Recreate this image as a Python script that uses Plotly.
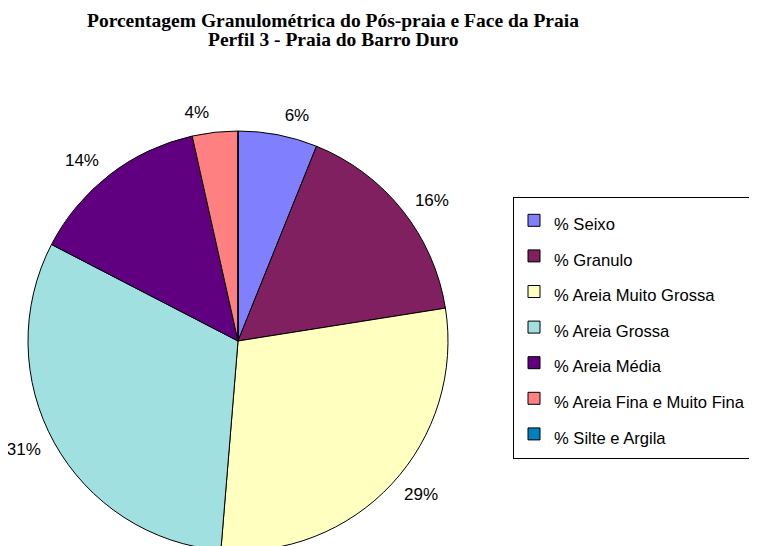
import plotly.graph_objects as go

labels = ["% Seixo", "% Granulo", "% Areia Muito Grossa", "% Areia Grossa",
          "% Areia Média", "% Areia Fina e Muito Fina", "% Silte e Argila"]
values = [6.1, 16.4, 28.8, 31.3, 13.9, 3.5, 0.0]
colors = ["#8080FF", "#802060", "#FFFFC0", "#A0E0E0", "#600080", "#FF8080", "#0080C0"]

title_lines = ["Porcentagem Granulométrica do Pós-praia e Face da Praia",
               "Perfil 3 - Praia do Barro Duro"]

W, H = 757, 560
total = sum(values)
texts = [f"{round(v / total * 100)}%" if v > 0 else "" for v in values]
legend_font = (35.6 - 3) / 1.3
FONT = "Liberation Sans, Arial"

# pie geometry (figure pixels)
cx, cy, R, R_lab = 230, 333, 210, 220


def dom(r):
    return dict(x=[(cx - r) / W, (cx + r) / W], y=[(H - cy - r) / H, (H - cy + r) / H])


legend_labels = [f"<span style='font-size:16.6px'>{l}</span>" for l in labels]

fig = go.Figure()
fig.add_trace(go.Pie(
    labels=legend_labels,
    values=values,
    textinfo="none",
    sort=False,
    direction="clockwise",
    rotation=0,
    marker=dict(colors=colors, line=dict(color="black", width=1)),
    domain=dom(R),
    automargin=False,
    hoverinfo="label+percent",
    showlegend=True,
))
# percentage labels, placed just outside the pie
fig.add_trace(go.Pie(
    labels=legend_labels,
    values=values,
    text=texts,
    textinfo="text",
    textposition="outside",
    sort=False,
    direction="clockwise",
    rotation=0,
    marker=dict(colors=["rgba(0,0,0,0)"] * len(values), line=dict(width=0)),
    outsidetextfont=dict(family=FONT, size=17, color="black"),
    textfont=dict(family=FONT, size=17, color="black"),
    domain=dom(R_lab),
    automargin=False,
    hoverinfo="skip",
    showlegend=False,
))

fig.update_layout(
    width=W, height=H,
    margin=dict(l=0, r=0, t=0, b=0, autoexpand=False),
    paper_bgcolor="white", plot_bgcolor="white",
    showlegend=True,
    legend=dict(
        x=505 / W, y=(H - 188.5) / H, xanchor="left", yanchor="top",
        font=dict(family=FONT, size=legend_font, color="black"),
        bordercolor="black", borderwidth=1, bgcolor="white",
        traceorder="normal",
    ),
    annotations=[
        dict(text=f"<b>{title_lines[0]}</b>", x=325 / W, y=(H - 12) / H,
             xref="paper", yref="paper", showarrow=False, xanchor="center", yanchor="middle",
             font=dict(family="Liberation Serif, Times New Roman", size=19.5, color="black")),
        dict(text=f"<b>{title_lines[1]}</b>", x=325 / W, y=(H - 31.5) / H,
             xref="paper", yref="paper", showarrow=False, xanchor="center", yanchor="middle",
             font=dict(family="Liberation Serif, Times New Roman", size=19.5, color="black")),
    ],
)

fig.write_html("out.html")
